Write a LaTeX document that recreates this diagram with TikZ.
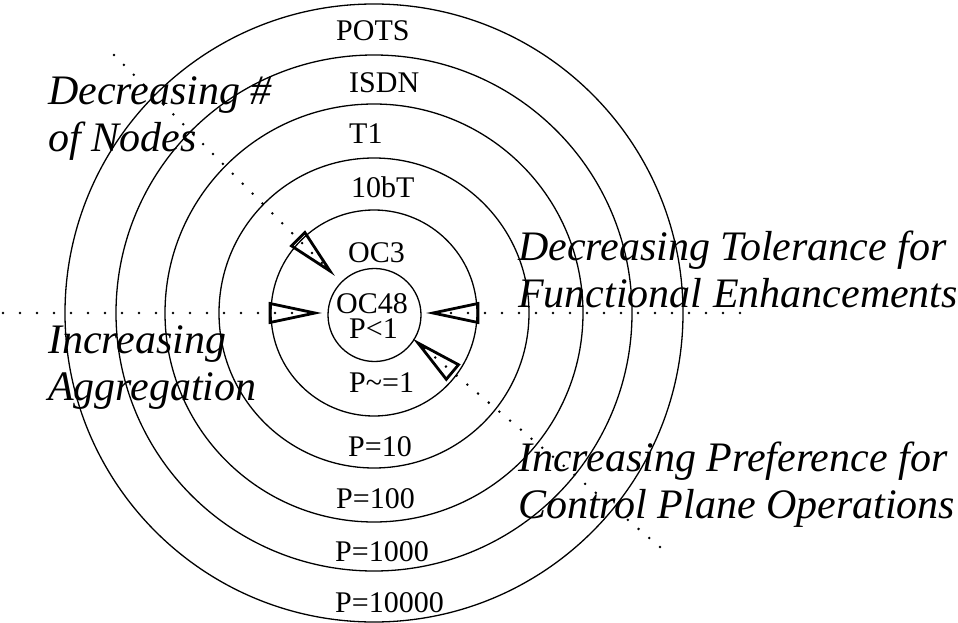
\documentclass[tikz,border=0pt]{standalone}
\usepackage{fontspec}
\setmainfont{Liberation Serif}
\begin{document}
\begin{tikzpicture}[x=1pt,y=-1pt,
  ring/.style={draw, circle, line width=1.3pt, inner sep=0pt},
  dotline/.style={line width=2.8pt, line cap=round, dash pattern=on 0pt off 14pt},
  hdotline/.style={line width=2.8pt, line cap=round, dash pattern=on 0pt off 17pt},
  headtri/.style={draw, line width=2.8pt, line join=miter},
  lab/.style={anchor=base west, inner sep=0pt, font=\fontsize{30}{36}\selectfont},
  note/.style={anchor=base west, inner sep=0pt, align=left, font=\fontsize{42}{47}\selectfont\itshape}]
\useasboundingbox (0,0) rectangle (958,623);
\coordinate (c) at (374,313);
% rings
\node[ring, minimum size=618pt] (r1) at (c) {};
\node[ring, minimum size=516pt] (r2) at (c) {};
\node[ring, minimum size=418pt] (r3) at (c) {};
\node[ring, minimum size=310pt] (r4) at (c) {};
\node[ring, minimum size=206pt] (r5) at (c) {};
\node[ring, minimum size=93pt] (r6) at (374.5,315) {};
% labels
\node[lab] (pots) at (336,41) {POTS};
\node[lab] (isdn) at (349,93) {ISDN};
\node[lab] (t1) at (349,143) {T1};
\node[lab] (tenbt) at (351,197) {10bT};
\node[lab] (oc3) at (348,262) {OC3};
\node[lab] (oc48) at (336,313) {OC48};
\node[lab] (plt1) at (349,338) {P<1};
\node[lab] (peq1) at (349,392) {P\textasciitilde=1};
\node[lab] (p10) at (348,456) {P=10};
\node[lab] (p100) at (336,508) {P=100};
\node[lab] (p1000) at (335,561) {P=1000};
\node[lab] (p10000) at (335,612) {P=10000};
% notes (base anchor = baseline of the last line)
\node[note] (nodes) at (48,151) {Decreasing \#\\of Nodes};
\node[note] (aggr) at (48,400) {Increasing\\Aggregation};
\node[note] (func) at (518,307) {Decreasing Tolerance for\\Functional Enhancements};
\node[note] (ctrl) at (518,518) {Increasing Preference for\\Control Plane Operations};
% dotted lines and heads
\coordinate (lstart) at (3,313);
\coordinate (ltip) at (315,313);
\coordinate (la) at (270,303.5);
\coordinate (lb) at (270,322.5);
\coordinate (rstart) at (740,313);
\coordinate (rtip) at (433,313);
\coordinate (ra) at (478,303.5);
\coordinate (rb) at (478,322.5);
\coordinate (ulstart) at (114,55);
\coordinate (ultip) at (330,271);
\coordinate (ula) at (304.9,232.5);
\coordinate (ulb) at (291.5,245.9);
\coordinate (lrstart) at (660,547);
\coordinate (lrtip) at (418,343);
\coordinate (lra) at (458.5,364.7);
\coordinate (lrb) at (446.3,379.3);
\draw[hdotline] (lstart) -- (ltip);
\draw[hdotline] (rstart) -- (rtip);
\draw[dotline] (ulstart) -- (ultip);
\draw[dotline] (lrstart) -- (lrtip);
\draw[headtri] (la) -- (ltip) -- (lb) -- cycle;
\draw[headtri] (ra) -- (rtip) -- (rb) -- cycle;
\draw[headtri] (ula) -- (ultip) -- (ulb) -- cycle;
\draw[headtri] (lra) -- (lrtip) -- (lrb) -- cycle;
\end{tikzpicture}
\end{document}
